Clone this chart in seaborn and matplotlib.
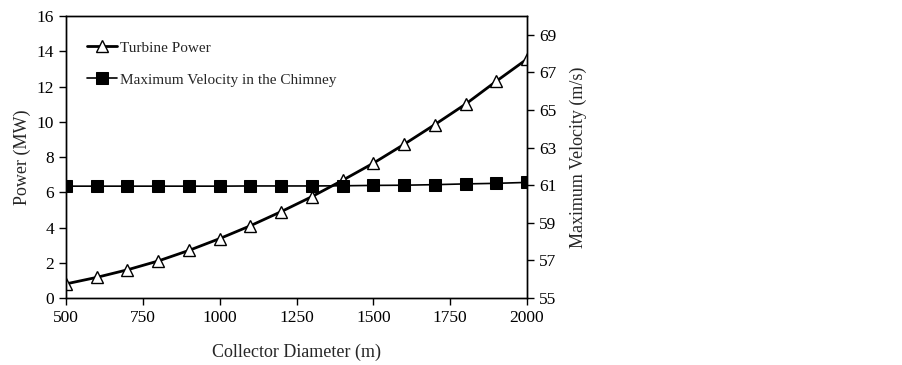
import matplotlib
matplotlib.use("Agg")
import matplotlib.pyplot as plt
import seaborn as sns
import pandas as pd

diameter = [500, 600, 700, 800, 900, 1000, 1100, 1200, 1300, 1400, 1500, 1600, 1700, 1800, 1900, 2000]
power = [0.8, 1.17, 1.6, 2.1, 2.7, 3.37, 4.1, 4.9, 5.75, 6.68, 7.65, 8.72, 9.84, 11.0, 12.3, 13.56]
velocity = [60.95, 60.95, 60.95, 60.95, 60.95, 60.95, 60.96, 60.96, 60.96, 60.97, 60.99, 61.0, 61.03, 61.07, 61.1, 61.15]

df = pd.DataFrame({"d": diameter, "p": power, "v": velocity})

sns.set_theme(style="white")
plt.rcParams['font.family'] = ['Liberation Serif', 'DejaVu Serif']

fig = plt.figure(figsize=(9.03, 3.65), dpi=100)
ax = fig.add_axes([0.0731, 0.1836, 0.5105, 0.7724])
ax2 = ax.twinx()

sns.lineplot(data=df, x="d", y="p", ax=ax, color="black", lw=2, marker="^",
             markersize=9, markerfacecolor="white", markeredgecolor="black",
             markeredgewidth=1, label="Turbine Power", legend=False)
sns.lineplot(data=df, x="d", y="v", ax=ax2, color="black", lw=1.2, marker="s",
             markersize=9, markerfacecolor="black", markeredgecolor="black",
             label="Maximum Velocity in the Chimney", legend=False)

ax.set_xlim(500, 2000)
ax.set_ylim(0, 16)
ax2.set_ylim(55, 70)
ax.set_xticks([500, 750, 1000, 1250, 1500, 1750, 2000])
ax.set_yticks(range(0, 17, 2))
ax2.set_yticks(range(55, 70, 2))

for a in (ax, ax2):
    for s in a.spines.values():
        s.set_color("black")
        s.set_linewidth(1)
ax.tick_params(axis="both", direction="out", length=5, width=1, colors="black", labelsize=12.5,
               bottom=True, left=True)
ax2.tick_params(axis="y", direction="out", length=5, width=1, colors="black", labelsize=12.5, right=True)

ax.set_xlabel("Collector Diameter (m)", fontsize=13, labelpad=13)
ax.set_ylabel("Power (MW)", fontsize=13, labelpad=4)
ax2.set_ylabel("Maximum Velocity (m/s)", fontsize=13, labelpad=10)

h1, l1 = ax.get_legend_handles_labels()
h2, l2 = ax2.get_legend_handles_labels()
ax2.legend(h1 + h2, l1 + l2, loc="upper left", bbox_to_anchor=(0.015, 0.96), frameon=False,
           fontsize=11, handlelength=2, handletextpad=0.2, labelspacing=1.2)

fig.savefig("out.png", dpi=100)
